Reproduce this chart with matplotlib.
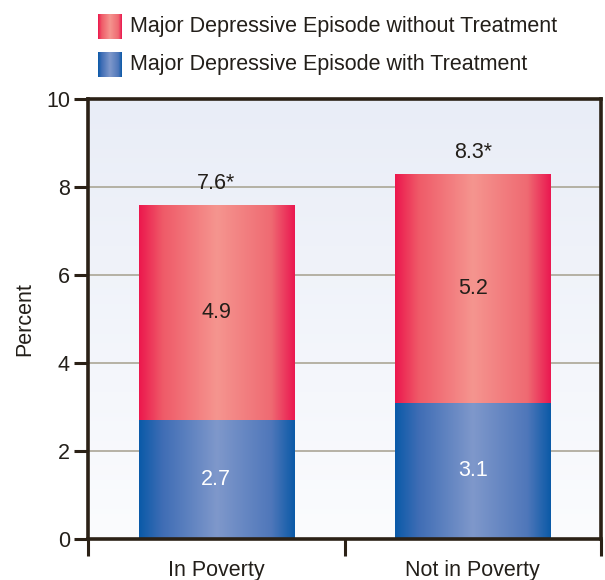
import numpy as np
import matplotlib
matplotlib.use('Agg')
import matplotlib.pyplot as plt
from matplotlib.colors import LinearSegmentedColormap

# Datos
categorias = ['In Poverty', 'Not in Poverty']
con_tratamiento = [2.7, 3.1]
sin_tratamiento = [4.9, 5.2]
totales = ['7.6*', '8.3*']
series = ['Major Depressive Episode without Treatment',
          'Major Depressive Episode with Treatment']

plt.rcParams['font.family'] = ['Liberation Sans', 'DejaVu Sans']
texto = '#231f1a'
eje = '#2b2116'

# Degradados horizontales (bordes oscuros, centro claro)
rojo = LinearSegmentedColormap.from_list(
    'rojo', [(0, '#ec174d'), (0.15, '#ef5a68'), (0.5, '#f5958f'), (0.85, '#ef6a72'), (1, '#ea1850')])
azul = LinearSegmentedColormap.from_list(
    'azul', [(0, '#0a5aa8'), (0.15, '#3f6db5'), (0.5, '#7f98cb'), (0.85, '#4f77ba'), (1, '#0b5aa7')])
grad = np.linspace(0, 1, 256).reshape(1, -1)

fig = plt.figure(figsize=(6.05, 5.8), dpi=100)
ax = fig.add_axes([88 / 605, 41 / 580, 513 / 605, 440 / 580])

# Fondo del área de trazado
fondo = LinearSegmentedColormap.from_list('fondo', ['#fbfcfe', '#e9edf7'])
ax.imshow(np.linspace(0, 1, 256).reshape(-1, 1), cmap=fondo, origin='lower',
          extent=[0, 2, 0, 10], aspect='auto', zorder=0)

x = np.arange(len(categorias)) + 0.5
b1 = ax.bar(x, con_tratamiento, width=0.605, color='none', zorder=2)
b2 = ax.bar(x, sin_tratamiento, width=0.605, bottom=con_tratamiento, color='none', zorder=2)

for barras, cmap in [(b1, azul), (b2, rojo)]:
    for p in barras:
        x0, y0 = p.get_x(), p.get_y()
        im = ax.imshow(grad, cmap=cmap, aspect='auto', zorder=2,
                       extent=[x0, x0 + p.get_width(), y0, y0 + p.get_height()])
        im.set_clip_path(p)

fs = 15.5
for i in range(len(categorias)):
    ax.text(x[i], con_tratamiento[i] / 2, f'{con_tratamiento[i]}', ha='center', va='center',
            color='white', fontsize=fs, zorder=3)
    ax.text(x[i], con_tratamiento[i] + sin_tratamiento[i] / 2, f'{sin_tratamiento[i]}',
            ha='center', va='center', color=texto, fontsize=fs, zorder=3)
    ax.text(x[i], con_tratamiento[i] + sin_tratamiento[i] + 0.48, totales[i],
            ha='center', va='center', color=texto, fontsize=fs, zorder=3)

ax.set_xlim(0, 2)
ax.set_ylim(0, 10)
ax.set_yticks(range(0, 11, 2))
ax.set_axisbelow(True)
ax.yaxis.grid(True, color='#aba696', linewidth=1.2)

ax.set_xticks(x)
ax.set_xticklabels(categorias, fontsize=fs, color=texto)
ax.set_xticks([0, 1, 2], minor=True)
ax.tick_params(axis='x', which='major', length=0, pad=15)
ax.tick_params(axis='x', which='minor', length=12, width=2.2, color=eje, direction='out')
ax.tick_params(axis='y', length=10, width=2.2, color=eje, labelsize=fs, labelcolor=texto, pad=3)
ax.set_ylabel('Percent', fontsize=fs, color=texto, labelpad=8)

for s in ax.spines.values():
    s.set_linewidth(2.6)
    s.set_color(eje)
    s.set_zorder(4)

# Leyenda con muestras degradadas
for j, (nombre, cmap) in enumerate(zip(series, [rojo, azul])):
    y_top = 14 + j * 38
    sw = fig.add_axes([98 / 605, 1 - (y_top + 25) / 580, 24 / 605, 25 / 580])
    sw.imshow(grad, cmap=cmap, aspect='auto')
    sw.axis('off')
    fig.text(130 / 605, 1 - (y_top + 12.5) / 580, nombre, ha='left', va='center',
             fontsize=fs, color=texto)

fig.savefig('out.png', dpi=100)
